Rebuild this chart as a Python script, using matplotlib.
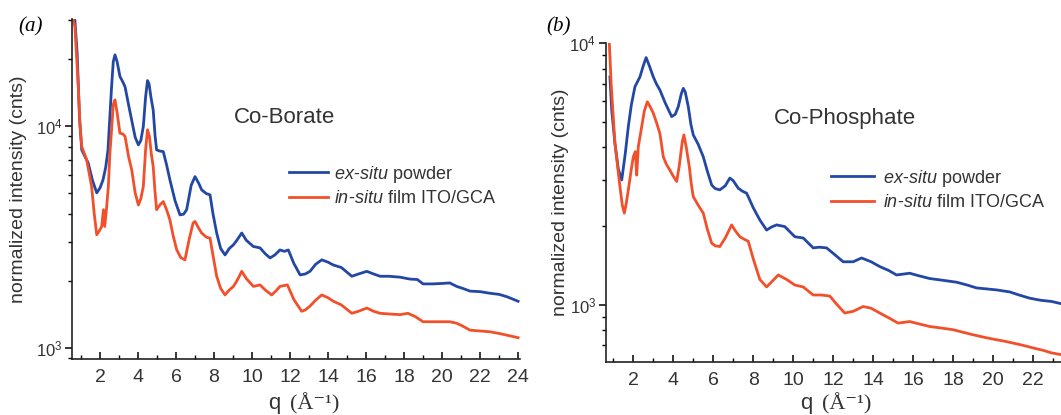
import numpy as np
import matplotlib
matplotlib.use("Agg")
import matplotlib.pyplot as plt
from matplotlib.ticker import MultipleLocator, LogLocator, NullFormatter

plt.rcParams['font.family'] = ['Liberation Sans', 'DejaVu Sans']
plt.rcParams['mathtext.fontset'] = 'custom'
plt.rcParams['mathtext.rm'] = 'Liberation Sans'
plt.rcParams['mathtext.it'] = 'Liberation Sans:italic'

# --- Co-Borate (a) ---
q_bor_ex = [0.55, 0.68, 0.8, 0.92, 1.04, 1.2, 1.38, 1.6, 1.83, 2.0, 2.16, 2.3, 2.42, 2.52, 2.61,
            2.7, 2.79, 2.9, 3.05, 3.2, 3.32, 3.5, 3.67, 3.85, 4.02, 4.15, 4.28, 4.4, 4.5, 4.58,
            4.68, 4.8, 4.9, 4.98, 5.15, 5.33, 5.5, 5.68, 5.95, 6.21, 6.4, 6.56, 6.8, 7.0, 7.2,
            7.35, 7.6, 7.79, 7.95, 8.14, 8.35, 8.58, 8.8, 9.02, 9.2, 9.46, 9.7, 10.07, 10.42,
            10.7, 10.95, 11.2, 11.47, 11.7, 11.91, 12.2, 12.53, 12.8, 13.05, 13.35, 13.67, 14.0,
            14.28, 14.7, 15.25, 15.6, 16.04, 16.4, 16.74, 17.2, 17.79, 18.3, 18.7, 19.0, 19.5,
            20.05, 20.4, 20.77, 21.1, 21.47, 22.0, 22.53, 23.0, 23.4, 24.0]
I_bor_ex = [31000, 30000, 21200, 11000, 7800, 7300, 6810, 5700, 4990, 5250, 5710, 6500, 7770, 11000, 15000,
            19500, 20900, 19500, 16700, 15800, 15000, 12500, 10600, 8900, 8210, 8600, 9930, 13500, 16000, 15500,
            13500, 11800, 9000, 7800, 7700, 7660, 6700, 5710, 4600, 3970, 4000, 4190, 5400, 5910, 5500,
            5150, 4950, 4890, 4000, 3290, 2800, 2620, 2800, 2910, 3050, 3290, 3050, 2860, 2820,
            2650, 2540, 2620, 2760, 2720, 2760, 2400, 2130, 2150, 2210, 2380, 2490, 2430,
            2360, 2300, 2100, 2150, 2210, 2150, 2100, 2100, 2080, 2040, 2030, 1940, 1940,
            1950, 1960, 1890, 1850, 1800, 1790, 1760, 1740, 1700, 1620]

q_bor_in = [0.55, 0.68, 0.86, 0.95, 1.04, 1.3, 1.56, 1.7, 1.83, 2.0, 2.09, 2.18, 2.25, 2.35, 2.44,
            2.52, 2.61, 2.7, 2.79, 2.9, 3.05, 3.2, 3.32, 3.5, 3.67, 3.85, 4.02, 4.15, 4.28, 4.4,
            4.5, 4.6, 4.7, 4.8, 4.9, 4.98, 5.15, 5.33, 5.5, 5.68, 5.85, 6.04, 6.25, 6.47, 6.7,
            6.9, 7.0, 7.2, 7.35, 7.6, 7.79, 7.95, 8.14, 8.35, 8.58, 8.8, 9.02, 9.2, 9.46, 9.7,
            10.07, 10.42, 10.7, 11.03, 11.25, 11.47, 11.86, 12.2, 12.61, 12.8, 13.05, 13.35, 13.67,
            14.0, 14.28, 14.7, 15.25, 15.6, 16.04, 16.4, 16.74, 17.2, 17.79, 18.2, 18.6, 19.0,
            19.5, 20.05, 20.4, 20.77, 21.1, 21.47, 22.0, 22.53, 23.0, 23.4, 24.0]
I_bor_in = [31000, 28000, 15000, 10000, 8070, 7030, 5330, 4000, 3230, 3400, 3520, 4190, 3520, 4300, 5330,
            7500, 9590, 12500, 13100, 11500, 9270, 9200, 8960, 7300, 6340, 5000, 4400, 4700, 5330, 7800,
            9600, 9000, 7500, 6560, 5000, 4190, 4400, 4560, 4200, 3770, 3200, 2760, 2550, 2490, 3100,
            3650, 3710, 3450, 3290, 3150, 3120, 2600, 2100, 1850, 1730, 1820, 1890, 2000, 2210, 2050,
            1890, 1920, 1820, 1730, 1800, 1890, 1920, 1650, 1460, 1480, 1540, 1640, 1730,
            1680, 1620, 1560, 1430, 1460, 1510, 1460, 1430, 1420, 1410, 1430, 1380, 1310,
            1310, 1310, 1310, 1290, 1250, 1200, 1190, 1180, 1160, 1140, 1110]

# --- Co-Phosphate (b) ---
q_pho_ex = [0.83, 0.92, 1.08, 1.25, 1.42, 1.6, 1.75, 1.9, 2.08, 2.33, 2.5, 2.64, 2.8, 3.0, 3.15,
            3.33, 3.6, 3.92, 4.1, 4.25, 4.4, 4.5, 4.6, 4.75, 4.88, 5.0, 5.25, 5.5, 5.7, 5.92,
            6.1, 6.33, 6.6, 6.83, 7.0, 7.25, 7.45, 7.67, 8.0, 8.33, 8.67, 8.9, 9.17, 9.58,
            10.08, 10.5, 11.0, 11.3, 11.67, 12.1, 12.5, 13.0, 13.42, 13.9, 14.33, 14.8, 15.17,
            15.83, 16.3, 16.83, 17.5, 18.17, 18.7, 19.17, 20.17, 20.83, 21.3, 21.83, 22.4,
            22.92, 23.4]
I_pho_ex = [7430, 5540, 4140, 3300, 3000, 3800, 4800, 5800, 6810, 7430, 8200, 8810, 8200, 7430, 7000,
            6620, 5900, 5240, 5350, 5720, 6400, 6720, 6500, 5720, 4900, 4460, 4100, 3680, 3250, 2870,
            2780, 2750, 2850, 3050, 2980, 2790, 2720, 2670, 2350, 2110, 1930, 1980, 2020, 1990,
            1820, 1800, 1650, 1660, 1650, 1550, 1460, 1460, 1510, 1460, 1400, 1350, 1300,
            1320, 1290, 1260, 1240, 1220, 1190, 1160, 1140, 1120, 1090, 1060, 1040,
            1030, 1010]

q_pho_in = [0.8, 0.89, 1.08, 1.33, 1.45, 1.55, 1.65, 1.75, 1.9, 2.0, 2.1, 2.17, 2.25, 2.42, 2.55,
            2.7, 2.85, 3.0, 3.15, 3.33, 3.5, 3.65, 3.83, 4.0, 4.17, 4.3, 4.45, 4.53, 4.65, 4.8,
            4.9, 5.0, 5.25, 5.5, 5.7, 5.92, 6.1, 6.33, 6.6, 6.92, 7.1, 7.33, 7.55, 7.75, 8.0,
            8.33, 8.67, 8.95, 9.25, 9.67, 10.08, 10.5, 11.0, 11.4, 11.83, 12.2, 12.58, 13.0,
            13.5, 13.9, 14.33, 14.8, 15.25, 15.83, 16.3, 16.83, 17.4, 18.0, 18.5, 19.0, 19.6,
            20.17, 20.6, 21.0, 21.5, 22.0, 22.5, 22.92, 23.4]
I_pho_in = [9980, 7020, 4140, 2830, 2400, 2240, 2450, 2750, 3300, 3680, 3850, 3130, 4020, 4800, 5500,
            5970, 5700, 5400, 5000, 4520, 3680, 3450, 3270, 3100, 2960, 3400, 4200, 4460, 4000, 3380,
            2900, 2590, 2400, 2240, 1950, 1720, 1680, 1670, 1800, 2020, 1920, 1820, 1780, 1750, 1500,
            1250, 1170, 1230, 1300, 1250, 1190, 1170, 1090, 1090, 1080, 1000, 930, 944,
            985, 970, 930, 890, 851, 863, 845, 826, 815, 803, 785, 768, 750,
            735, 725, 714, 700, 684, 670, 655, 645]

blue = '#2247a5'
red = '#f2502a'
txt = '#333333'

fig = plt.figure(figsize=(10.61, 4.15), dpi=100)
ax1 = fig.add_axes([0.0679, 0.135, 0.4222, 0.819])
ax2 = fig.add_axes([0.5711, 0.128, 0.4289, 0.768])


def style(ax, xlim, ylim, xmajors, labelpad):
    ax.set_yscale('log')
    ax.set_xlim(*xlim)
    ax.set_ylim(*ylim)
    ax.xaxis.set_minor_locator(MultipleLocator(1))
    ax.yaxis.set_major_locator(LogLocator(base=10))
    ax.yaxis.set_minor_locator(LogLocator(base=10, subs=np.arange(2, 10)))
    ax.yaxis.set_minor_formatter(NullFormatter())
    for s in ['top', 'right']:
        ax.spines[s].set_visible(False)
    for s in ['left', 'bottom']:
        ax.spines[s].set_linewidth(1.2)
        ax.spines[s].set_color('#222222')
    ax.tick_params(axis='x', which='major', direction='in', length=5, width=1.1,
                   labelsize=14, labelcolor=txt, pad=7)
    ax.tick_params(axis='x', which='minor', direction='in', length=3, width=1.0)
    ax.tick_params(axis='y', which='major', direction='out', length=5, width=1.1,
                   labelsize=12, labelcolor=txt, pad=2)
    ax.tick_params(axis='y', which='minor', direction='out', length=3, width=1.0)
    ax.set_xticks(xmajors)
    ax.set_ylabel('normalized intensity (cnts)', fontsize=14, color=txt, labelpad=labelpad)


style(ax1, (0.53, 24.1), (890, 30300), np.arange(2, 25, 2), 6)
style(ax2, (0.63, 23.4), (605, 10000), np.arange(2, 23, 2), 0)

for ax, qe, Ie, qi, Ii in [(ax1, q_bor_ex, I_bor_ex, q_bor_in, I_bor_in),
                           (ax2, q_pho_ex, I_pho_ex, q_pho_in, I_pho_in)]:
    ax.plot(qe, Ie, color=blue, lw=2.0, label=r'$\mathit{ex}$-$\mathit{situ}$ powder')
    ax.plot(qi, Ii, color=red, lw=2.0, label=r'$\mathit{in}$-$\mathit{situ}$ film ITO/GCA')

ax1.text(0.475, 0.709, 'Co-Borate', transform=ax1.transAxes, fontsize=16, color=txt,
         ha='center', va='center')
ax2.text(0.525, 0.765, 'Co-Phosphate', transform=ax2.transAxes, fontsize=16, color=txt,
         ha='center', va='center')

ax1.legend(loc='upper left', bbox_to_anchor=(276 / 1061, 1 - 151 / 415),
           bbox_transform=fig.transFigure, frameon=False, fontsize=13,
           handlelength=2.2, handletextpad=0.3, labelspacing=0.3,
           borderpad=0.2, labelcolor=txt)
ax2.legend(loc='upper left', bbox_to_anchor=(818 / 1061, 1 - 155 / 415),
           bbox_transform=fig.transFigure, frameon=False, fontsize=13,
           handlelength=2.4, handletextpad=0.5, labelspacing=0.3,
           borderpad=0.2, labelcolor=txt)

# panel letters and x labels
serif = ['Liberation Serif', 'DejaVu Serif']
fig.text(18 / 1061, 1 - 27 / 415, '(a)', fontsize=15, family=serif, style='italic', va='center')
fig.text(546 / 1061, 1 - 27 / 415, '(b)', fontsize=15, family=serif, style='italic', va='center')

for xc in [288, 820]:
    fig.text((xc - 8) / 1061, 0.014, 'q', fontsize=16, color=txt, ha='right', va='baseline')
    fig.text((xc + 2) / 1061, 0.014, '(Å⁻¹)', fontsize=16, color=txt, family=serif,
             ha='left', va='baseline')

fig.savefig('out.png', dpi=100)
